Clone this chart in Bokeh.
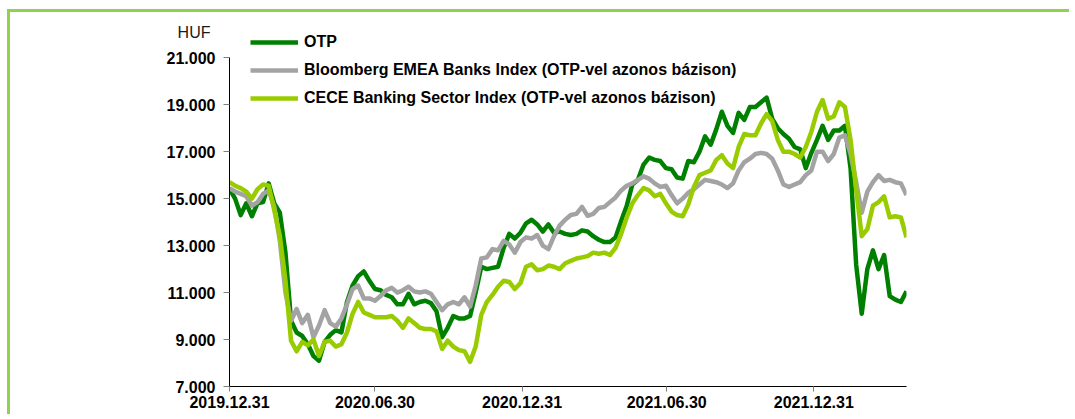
import pandas as pd
from bokeh.plotting import figure
from bokeh.models import (FixedTicker, DatetimeTickFormatter, Legend, LegendItem,
                          Range1d, LinearAxis)
from bokeh.embed import file_html
from bokeh.resources import INLINE

# weekly observations starting 2019-12-31
dates = pd.date_range("2019-12-31", periods=122, freq="7D")

otp = [15420, 15000, 14300, 14800, 14250, 14800, 14850, 15650, 14800, 14400,
       12700, 9800, 9300, 9150, 8800, 8300, 8100, 8900, 9200, 9400,
       9300, 10600, 11300, 11700, 11900, 11500, 11150, 11100, 10900, 10800,
       10500, 10500, 10950, 10500, 10600, 10650, 10550, 10200, 9100, 9500,
       10000, 9900, 9900, 10000, 11000, 12100, 12000, 12050, 12100, 12900,
       13500, 13300, 13550, 13950, 14100, 13900, 13600, 13900, 13550, 13600,
       13500, 13450, 13500, 13650, 13600, 13400, 13250, 13150, 13150, 13350,
       14050, 14700, 15600, 15800, 16450, 16750, 16650, 16600, 16300, 16250,
       15900, 15850, 16600, 16550, 17000, 17650, 17300, 17950, 18700, 18100,
       17800, 18650, 18350, 18900, 18900, 19100, 19300, 18400, 18000, 17750,
       17550, 17200, 17100, 16300, 16950, 17500, 18100, 17500, 17900, 17900,
       18100, 16300, 12200, 10100, 12000, 12800, 12000, 12600, 10850, 10700,
       10600, 11050]

bloomberg = [15450, 15300, 15200, 15100, 14700, 14850, 15200, 15350, 14650, 13200,
             11000, 9800, 10300, 9700, 10050, 9100, 9600, 10250, 9700, 9550,
             9900, 10500, 11150, 11300, 10750, 10750, 10650, 10850, 11100, 11200,
             11000, 11100, 11250, 11050, 11000, 11050, 10950, 10600, 10250, 10500,
             10600, 10500, 10800, 10400, 11300, 12450, 12500, 12850, 12800, 13200,
             13050, 12700, 13150, 13350, 13300, 13450, 13000, 12850, 13400, 13850,
             14100, 14300, 14350, 14650, 14270, 14350, 14600, 14650, 14850, 15050,
             15350, 15550, 15650, 15800, 15950, 15850, 15650, 15500, 15550, 15150,
             14800, 15000, 15250, 15400, 15600, 15800, 15750, 15700, 15600, 15450,
             15650, 16200, 16550, 16700, 16900, 16950, 16900, 16700, 16200, 15600,
             15500, 15600, 15700, 16000, 16200, 17000, 17000, 16600, 16900, 17600,
             17700, 16900, 15700, 14400, 15300, 15700, 16000, 15750, 15800, 15700,
             15650, 15150]

cece = [15700, 15550, 15450, 15300, 15000, 15400, 15600, 15550, 14500, 13400,
        11500, 8950, 8500, 8900, 8750, 9000, 8300, 8900, 8950, 8700,
        8800, 9300, 10100, 10600, 10150, 10050, 9950, 9950, 9950, 10000,
        9800, 9500, 9900, 9700, 9500, 9450, 9450, 9350, 8600, 8950,
        8700, 8550, 8500, 8050, 8700, 10050, 10600, 10900, 11250, 11500,
        11450, 11150, 11400, 12100, 12200, 11950, 12000, 12150, 12100, 12000,
        12250, 12350, 12450, 12500, 12550, 12700, 12650, 12700, 12600, 12900,
        13500, 14200, 14800, 15150, 15450, 15350, 15100, 15200, 14800, 14450,
        14300, 14250, 14750, 15500, 16000, 16100, 16200, 16650, 16850, 16500,
        16300, 17200, 17750, 17700, 17700, 18200, 18600, 18300, 17500, 17000,
        17000, 16900, 16750, 17200, 17850, 18700, 19200, 18400, 18500, 19100,
        18900, 17500, 15400, 13400, 13700, 14700, 14850, 15100, 14200, 14250,
        14200, 13350]

series_names = ["OTP",
                "Bloomberg EMEA Banks Index (OTP-vel azonos bázison)",
                "CECE Banking Sector Index (OTP-vel azonos bázison)"]
series_colors = ["#008000", "#A3A3A3", "#99CC00"]

y_ticks = [7000, 9000, 11000, 13000, 15000, 17000, 19000, 21000]
y_tick_labels = ["7.000", "9.000", "11.000", "13.000", "15.000", "17.000", "19.000", "21.000"]
x_tick_dates = ["2019-12-31", "2020-06-30", "2020-12-31", "2021-06-30", "2021-12-31"]
unit_label = "HUF"

FONT = "Liberation Sans, Arial, sans-serif"
FS = "16px"
Y_TOP = 22500        # frame top leaves room for the legend above the 21.000 line
UNIT_LABEL_POS = 22070

p = figure(width=1062, height=405, x_axis_type="datetime",
           output_backend="svg", toolbar_location=None,
           x_range=Range1d(dates[0], dates[-1]), y_range=Range1d(7000, Y_TOP),
           min_border_left=219, min_border_right=166, min_border_top=10,
           min_border_bottom=31)
p.styles = {"margin-left": "7px", "margin-top": "9px",
            "border-left": "3px solid #92D050", "border-top": "3px solid #92D050"}
p.outline_line_color = None
p.xgrid.visible = False
p.ygrid.visible = False
p.background_fill_color = "white"
p.border_fill_color = "white"

renderers = []
for vals, col in zip([otp, bloomberg, cece], series_colors):
    r = p.line(dates, vals, line_color=col, line_width=4.5, line_join="round")
    renderers.append(r)

# y axis
yax = p.yaxis[0]
yax.bounds = (y_ticks[0], y_ticks[-1])
yax.ticker = FixedTicker(ticks=y_ticks)
yax.major_label_overrides = {t: l for t, l in zip(y_ticks, y_tick_labels)}
yax.major_tick_out = 6
yax.major_tick_in = 0
yax.minor_tick_out = 0
yax.minor_tick_in = 0
yax.major_tick_line_color = "#808080"
yax.axis_line_color = "black"
yax.major_label_standoff = 8
yax.major_label_text_font = FONT
yax.major_label_text_font_size = FS
yax.major_label_text_font_style = "bold"
yax.major_label_text_color = "black"

# unit label as a second, line-less axis
uax = LinearAxis(ticker=FixedTicker(ticks=[UNIT_LABEL_POS]),
                 major_label_overrides={UNIT_LABEL_POS: unit_label},
                 axis_line_color=None, major_tick_line_color=None,
                 minor_tick_line_color=None, major_tick_out=0, major_tick_in=0,
                 minor_tick_out=0, minor_tick_in=0,
                 major_label_standoff=-47,
                 major_label_text_font=FONT, major_label_text_font_size=FS,
                 major_label_text_font_style="normal",
                 major_label_text_color="#1a1a1a")
p.add_layout(uax, "left")

# x axis
xax = p.xaxis[0]
xax.ticker = FixedTicker(ticks=[pd.Timestamp(d).value / 1e6 for d in x_tick_dates])
fmt = "%Y.%m.%d"
xax.formatter = DatetimeTickFormatter(milliseconds=fmt, seconds=fmt, minsec=fmt, minutes=fmt,
                                      hourmin=fmt, hours=fmt, days=fmt, months=fmt, years=fmt)
xax.major_tick_out = 5
xax.major_tick_in = 0
xax.minor_tick_out = 0
xax.minor_tick_in = 0
xax.major_tick_line_color = "#808080"
xax.axis_line_color = "black"
xax.major_label_standoff = 4
xax.major_label_text_font = FONT
xax.major_label_text_font_size = FS
xax.major_label_text_font_style = "bold"
xax.major_label_text_color = "black"

# legend
legend = Legend(items=[LegendItem(label=n, renderers=[r]) for n, r in zip(series_names, renderers)],
                location=(21, 278), orientation="vertical",
                glyph_width=48, glyph_height=20, label_height=20, spacing=8,
                label_standoff=6, padding=0, margin=0,
                border_line_color=None, background_fill_alpha=0,
                label_text_font=FONT, label_text_font_size=FS,
                label_text_font_style="bold", label_text_color="black")
p.add_layout(legend, "center")

open("out.html", "w").write(file_html(p, INLINE))
